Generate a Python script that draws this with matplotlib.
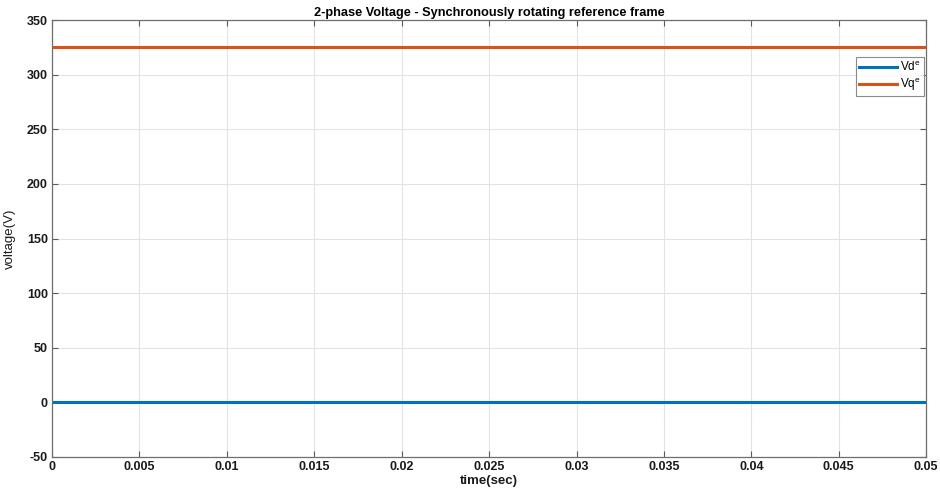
import matplotlib

matplotlib.use("Agg")
import matplotlib.pyplot as plt

# Simulation window and dq-axis voltages in the synchronous frame
time_s = [0.0, 0.05]
vd_e = [0.0, 0.0]
vq_e = [325.0, 325.0]

x_ticks = [0, 0.005, 0.01, 0.015, 0.02, 0.025, 0.03, 0.035, 0.04, 0.045, 0.05]
x_tick_labels = ["0", "0.005", "0.01", "0.015", "0.02", "0.025", "0.03", "0.035", "0.04", "0.045", "0.05"]
y_ticks = [-50, 0, 50, 100, 150, 200, 250, 300, 350]

plt.rcParams.update(
    {
        "font.family": ["Liberation Sans", "DejaVu Sans"],
        "font.size": 9,
        "axes.unicode_minus": False,
        "xtick.direction": "in",
        "ytick.direction": "in",
    }
)

fig = plt.figure(figsize=(9.4, 4.97), dpi=100)
ax = fig.add_axes([0.0553, 0.0805, 0.930, 0.879])

ax.plot(time_s, vd_e, color="#0072BD", linewidth=2.2, label="Vd$^{\\mathregular{e}}$")
ax.plot(time_s, vq_e, color="#D95319", linewidth=2.2, label="Vq$^{\\mathregular{e}}$")

ax.set_xlim(0, 0.05)
ax.set_ylim(-50, 350)
ax.set_xticks(x_ticks)
ax.set_xticklabels(x_tick_labels)
ax.set_yticks(y_ticks)
ax.tick_params(which="both", top=True, right=True, length=4, color="#5a5a5a",
               labelsize=9, labelcolor="#1a1a1a", pad=3)
for label in ax.get_xticklabels() + ax.get_yticklabels():
    label.set_fontweight("bold")

ax.grid(True, color="#E3E3E3", linewidth=0.8)
ax.set_axisbelow(True)
for spine in ax.spines.values():
    spine.set_color("#6e6e6e")
    spine.set_linewidth(0.9)

ax.set_xlabel("time(sec)", fontsize=9.5, fontweight="bold", color="#1a1a1a", labelpad=1)
ax.set_ylabel("voltage(V)", fontsize=9.5, color="#1a1a1a", labelpad=8)
ax.set_title("2-phase Voltage - Synchronously rotating reference frame",
             fontsize=9.2, fontweight="bold", pad=3)

leg = ax.legend(loc="upper right", bbox_to_anchor=(1.0, 0.92), fontsize=8.5,
                frameon=True, fancybox=False, edgecolor="#6e6e6e",
                handlelength=3.2, handletextpad=0.3, borderpad=0.25,
                labelspacing=0.2, borderaxespad=0.2)
leg.get_frame().set_linewidth(0.8)

fig.savefig("out.png", dpi=100)
